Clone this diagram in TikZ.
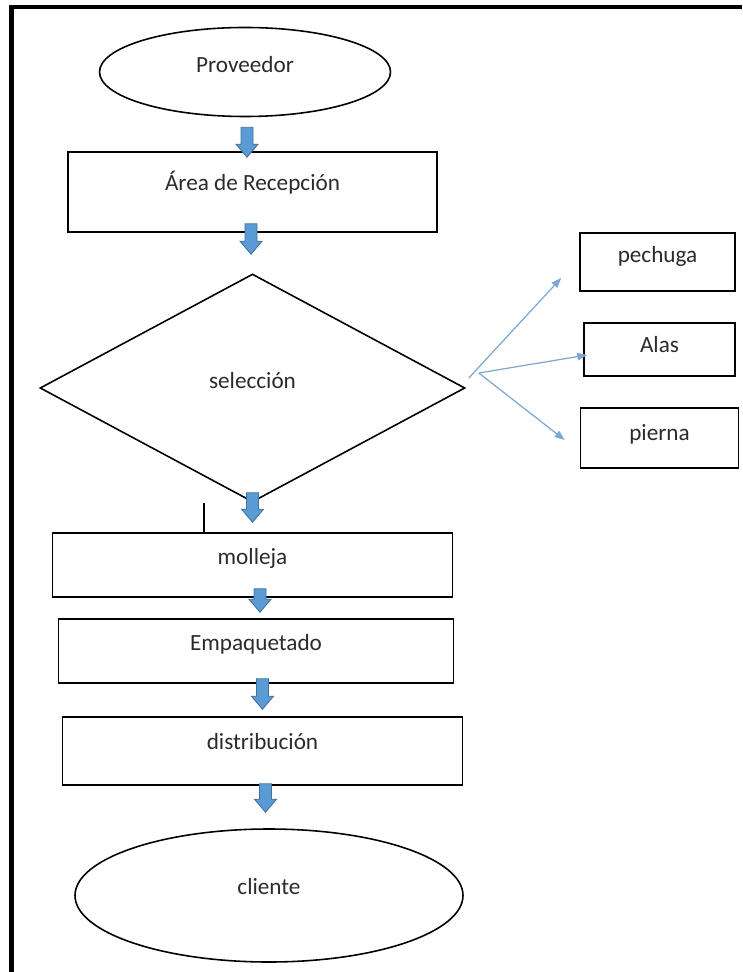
\documentclass[tikz,border=0pt]{standalone}
\usepackage{fontspec}
\setmainfont{Carlito}
\usepackage{tikz}
\usetikzlibrary{shapes,arrows.meta,positioning,calc}
\definecolor{arrowBlue}{HTML}{5B9BD5}
\definecolor{arrowEdge}{HTML}{41719C}
\definecolor{branchBlue}{HTML}{7DA6D2}
\definecolor{textGray}{HTML}{2B2B2B}
\tikzstyle{block} = [draw, line width=0.9pt, fill=white, rectangle,
    text height=0.75em, font=\fontsize{13.2}{16}\selectfont, text=textGray]
\tikzstyle{terminal} = [block, ellipse]
\tikzstyle{decision} = [block, diamond]
\tikzstyle{branch} = [draw=branchBlue, line width=0.7pt,
    -{Triangle[length=0.2cm,width=0.15cm]}]
\tikzstyle{blockArrow} = [draw=arrowEdge, fill=arrowBlue, line width=0.5pt,
    to path={let \p1=(\tikztostart), \p2=(\tikztotarget) in
      (\x1-0.12cm,\y1) -- (\x1-0.12cm,\y2+0.26cm) -- (\x1-0.22cm,\y2+0.26cm)
      -- (\x1,\y2) -- (\x1+0.22cm,\y2+0.26cm) -- (\x1+0.12cm,\y2+0.26cm)
      -- (\x1+0.12cm,\y1) -- cycle}]

\begin{document}
\begin{tikzpicture}[node distance=2cm]
\useasboundingbox (0,0) rectangle (14.84,-19.44);
% Frame
	\draw [line width=0.09cm] (0.23,-19.44) -- (0.23,-0.14) -- (14.84,-0.14);
% Nodes
	\node [terminal, minimum width=5.82cm, minimum height=1.78cm, text depth=0.23cm] (prov) at (4.90,-1.44) {Proveedor};
	\node [block, below of=prov, node distance=2.40cm, xshift=0.15cm, minimum width=7.38cm, minimum height=1.60cm, text depth=0.31cm] (recep) {Área de Recepción};
	\node [decision, below of=recep, node distance=3.92cm, minimum width=8.5cm, minimum height=4.56cm, aspect=1.86, text depth=0.23cm] (sel) {selección};
	\node [block, below of=sel, node distance=3.54cm, minimum width=8.00cm, minimum height=1.28cm, text depth=0.27cm] (molleja) {molleja};
	\node [block, below of=molleja, node distance=1.72cm, xshift=0.07cm, minimum width=7.90cm, minimum height=1.28cm, text depth=0.27cm] (empaq) {Empaquetado};
	\node [block, below of=empaq, node distance=2.00cm, xshift=0.13cm, minimum width=8.00cm, minimum height=1.36cm, text depth=0.31cm] (distrib) {distribución};
	\node [terminal, below of=distrib, node distance=2.89cm, xshift=0.13cm, minimum width=7.76cm, minimum height=2.66cm, text depth=0.29cm] (cliente) {cliente};
	\node [block, right of=sel, node distance=8.14cm, yshift=0.77cm, minimum width=3.02cm, minimum height=1.06cm, text depth=0.13cm] (alas) {Alas};
	\node [block, above of=alas, node distance=1.75cm, xshift=-0.04cm, minimum width=3.10cm, minimum height=1.16cm, text depth=0.23cm] (pechuga) {pechuga};
	\node [block, below of=alas, node distance=1.77cm, minimum width=3.16cm, minimum height=1.20cm, text depth=0.15cm] (pierna) {pierna};
	\coordinate (tick) at ([xshift=-0.97cm]sel.south);
% Connections
	\draw [blockArrow] ([xshift=0.04cm,yshift=-0.20cm]prov.south) to ([yshift=-0.12cm]prov.south |- recep.north);
	\draw [blockArrow] ([xshift=-0.03cm,yshift=0.18cm]recep.south) to ([yshift=0.38cm]recep.south |- sel.north);
	\draw [blockArrow] ([yshift=0.20cm]sel.south) to ([yshift=0.20cm]sel.south |- molleja.north);
	\draw [blockArrow] ([xshift=0.15cm,yshift=0.18cm]molleja.south) to ([yshift=0.12cm]molleja.south |- empaq.north);
	\draw [blockArrow] ([xshift=0.13cm,yshift=0.10cm]empaq.south) to ([yshift=0.14cm]empaq.south |- distrib.north);
	\draw [blockArrow] ([xshift=0.06cm,yshift=0.04cm]distrib.south) to ([yshift=0.32cm]distrib.south |- cliente.north);
	\draw [branch] ([shift={(0.06cm,0.20cm)}]sel.east) -- ([shift={(-0.36cm,-0.32cm)}]pechuga.west);
	\draw [branch] ([shift={(0.26cm,0.30cm)}]sel.east) -- ([shift={(0.08cm,-0.11cm)}]alas.west);
	\draw [branch] ([shift={(0.26cm,0.30cm)}]sel.east) -- ([shift={(-0.30cm,-0.04cm)}]pierna.west);
	\draw [line width=0.8pt] (tick) -- (tick |- molleja.north);
\end{tikzpicture}
\end{document}
